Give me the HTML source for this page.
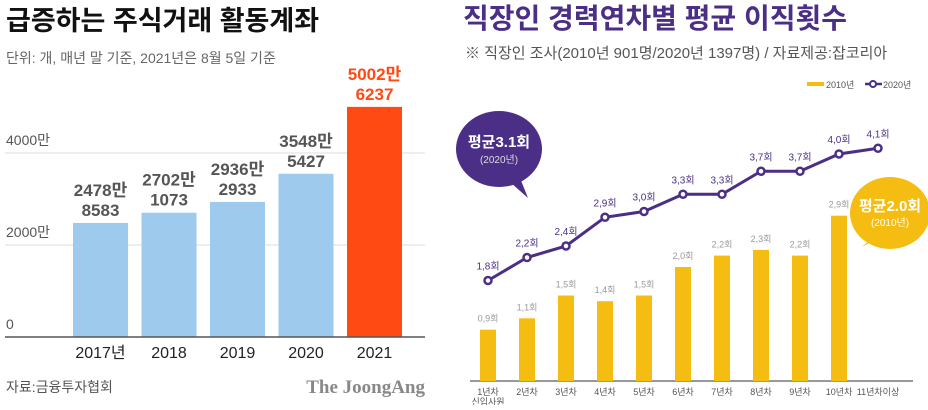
<!DOCTYPE html>
<html><head><meta charset="utf-8">
<style>
body{margin:0;width:928px;height:405px;background:#fff;overflow:hidden;font-family:"Liberation Sans","Noto Sans CJK KR",sans-serif;}
svg text{font-family:"Liberation Sans","Noto Sans CJK KR",sans-serif;}
</style></head>
<body>
<svg id="c" width="928" height="405" xmlns="http://www.w3.org/2000/svg">
<g>
<text x="6" y="30" font-size="27" font-weight="700" fill="#111">급증하는 주식거래 활동계좌</text>
<text x="6" y="63" font-size="14" fill="#666">단위: 개, 매년 말 기준, 2021년은 8월 5일 기준</text>
<g id="lg"></g>
<text x="6" y="392" font-size="14" fill="#555">자료:금융투자협회</text>
<text x="425" y="393" font-size="19" font-weight="700" fill="#888" text-anchor="end" font-family="Liberation Serif,serif" style="font-family:'Liberation Serif',serif">The JoongAng</text>
</g>
<g>
<text x="463" y="28" font-size="28" font-weight="700" fill="#4b2f86">직장인 경력연차별 평균 이직횟수</text>
<text x="465" y="58" font-size="15" fill="#555">※ 직장인 조사(2010년 901명/2020년 1397명) / 자료제공:잡코리아</text>
<g>
<rect x="807" y="82" width="17" height="4" fill="#f5bd12"/>
<text x="826" y="88" font-size="9" fill="#555">2010년</text>
<line x1="865" y1="84" x2="882" y2="84" stroke="#4b2f86" stroke-width="2.5"/>
<circle cx="873" cy="84" r="3" fill="#fff" stroke="#4b2f86" stroke-width="2"/>
<text x="883" y="88" font-size="9" fill="#555">2020년</text>
</g>
<g id="rg"></g>
<g>
<path d="M520,178 L528,198 L510,182 Z" fill="#4b2f86"/>
<ellipse cx="499" cy="149" rx="43" ry="38" fill="#4b2f86"/>
<text x="499" y="147" font-size="15" font-weight="700" fill="#fff" text-anchor="middle">평균3.1회</text>
<text x="499" y="163" font-size="10" fill="#ddd" text-anchor="middle">(2020년)</text>
</g>
<g>
<path d="M870,240 L862,247 L878,238 Z" fill="#f5bd12"/>
<ellipse cx="890" cy="213" rx="40" ry="36" fill="#f5bd12"/>
<text x="890" y="211" font-size="15" font-weight="700" fill="#fff" text-anchor="middle">평균2.0회</text>
<text x="890" y="226" font-size="10" fill="#fff" text-anchor="middle">(2010년)</text>
</g>
</g>
</svg>
<script>
const leftYears=["2017년","2018","2019","2020","2021"];
const leftValues=[24788583,27021073,29362933,35485427,50026237];
const leftLabels1=["2478만","2702만","2936만","3548만","5002만"];
const leftLabels2=["8583","1073","2933","5427","6237"];
const leftTicks=[0,20000000,40000000];
const leftTickLabels=["0","2000만","4000만"];

const rightCats=["1년차","2년차","3년차","4년차","5년차","6년차","7년차","8년차","9년차","10년차","11년차이상"];
const bars2010=[0.9,1.1,1.5,1.4,1.5,2.0,2.2,2.3,2.2,2.9];
const line2020=[1.8,2.2,2.4,2.9,3.0,3.3,3.3,3.7,3.7,4.0,4.1];

const NS="http://www.w3.org/2000/svg";
function mk(p,t,a){const e=document.createElementNS(NS,t);for(const k in a)e.setAttribute(k,a[k]);p.appendChild(e);return e;}

// left
const lg=document.getElementById('lg');
const ly=v=>337-v*92/20000000;
const lx=i=>73+i*68.5;
leftTicks.forEach((t,i)=>{
  if(t>0){const g=mk(lg,'line',{x1:5,x2:425,y1:ly(t),y2:ly(t),stroke:'#ddd','stroke-width':1});
  
  }
  const tx=mk(lg,'text',{x:6,y:ly(t)-8,'font-size':14,fill:'#555'});tx.textContent=leftTickLabels[i];
  
  
});
leftValues.forEach((v,i)=>{
  const last=i===leftValues.length-1;
  const r=mk(lg,'rect',{x:lx(i),y:ly(v),width:55,height:337-ly(v),fill:last?'#ff4a14':'#9ecbed'});
  
  
  const c=last?'#ff4a14':'#555';
  const a=mk(lg,'text',{x:lx(i)+27.5,y:ly(v)-27,'font-size':17,'font-weight':700,fill:c,'text-anchor':'middle'});a.textContent=leftLabels1[i];
  
  
  const b=mk(lg,'text',{x:lx(i)+27.5,y:ly(v)-7,'font-size':17,'font-weight':700,fill:c,'text-anchor':'middle'});b.textContent=leftLabels2[i];
  
  
  const x=mk(lg,'text',{x:lx(i)+27.5,y:358,'font-size':16,fill:'#222','text-anchor':'middle'});x.textContent=leftYears[i];
  
  
});
const ax=mk(lg,'line',{x1:5,x2:425,y1:337,y2:337,stroke:'#555','stroke-width':1.5});



// right
const rg=document.getElementById('rg');
const rx=i=>488+i*39;
const by=v=>381-v*57;
const lyy=v=>384-v*57.5;
const rax=mk(rg,'line',{x1:470,x2:913,y1:381,y2:381,stroke:'#333','stroke-width':1});


bars2010.forEach((v,i)=>{
  const r=mk(rg,'rect',{x:rx(i)-8,y:by(v),width:16,height:381-by(v),fill:'#f5bd12'});
  
  
  const t=mk(rg,'text',{x:rx(i),y:by(v)-8,'font-size':9,fill:'#999','text-anchor':'middle'});t.textContent=v.toFixed(1).replace('.',',')+'회';
  
  
});
rightCats.forEach((c,i)=>{
  const t=mk(rg,'text',{x:rx(i),y:395,'font-size':9,fill:'#555','text-anchor':'middle'});t.textContent=c;
  
  
});
const sub=mk(rg,'text',{x:rx(0),y:405,'font-size':9,fill:'#555','text-anchor':'middle'});sub.textContent='신입사원';


const pl=mk(rg,'polyline',{points:line2020.map((v,i)=>rx(i)+','+lyy(v)).join(' '),fill:'none',stroke:'#4b2f86','stroke-width':3});


line2020.forEach((v,i)=>{
  const c=mk(rg,'circle',{cx:rx(i),cy:lyy(v),r:3.5,fill:'#fff',stroke:'#4b2f86','stroke-width':2.5});
  
  
  const t=mk(rg,'text',{x:rx(i),y:lyy(v)-11,'font-size':10,fill:'#4b2f86','text-anchor':'middle'});t.textContent=v.toFixed(1).replace('.',',')+'회';
  
  
});
</script>
</body></html>
